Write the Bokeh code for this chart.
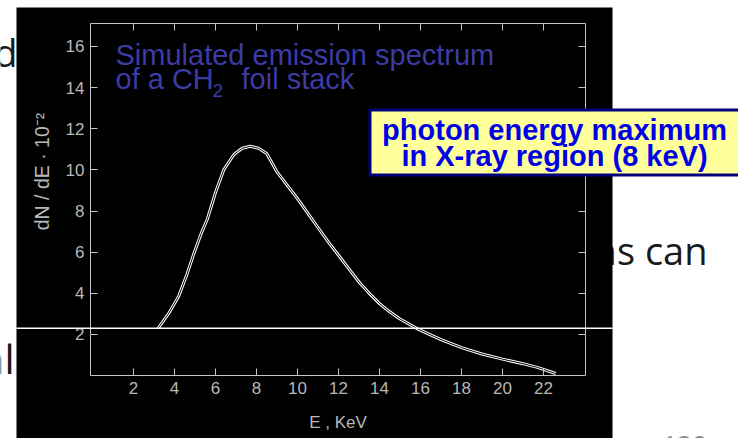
import numpy as np
from bokeh.plotting import figure
from bokeh.models import Range1d, LinearAxis, FixedTicker, Label, BoxAnnotation
from bokeh.embed import file_html
from bokeh.resources import INLINE

# ---- data ----
energy_kev = [3.2, 3.7, 4.2, 4.6, 4.95, 5.3, 5.6, 6.0, 6.4, 6.9, 7.3, 7.7, 8.1, 8.5,
              9.0, 9.5, 10.0, 10.5, 11.0, 11.5, 12.0, 12.5, 13.0, 13.5, 14.0, 14.5,
              15.0, 15.9, 17.0, 18.0, 19.0, 20.0, 21.0, 21.7, 22.6]
dn_de = [2.3, 3.0, 3.85, 4.9, 5.95, 6.9, 7.6, 8.9, 10.0, 10.75, 11.05, 11.15, 11.05, 10.8,
         9.9, 9.25, 8.6, 7.9, 7.2, 6.5, 5.85, 5.2, 4.55, 4.0, 3.5, 3.1,
         2.75, 2.25, 1.75, 1.36, 1.05, 0.8, 0.58, 0.4, 0.1]
x_ticks = [2, 4, 6, 8, 10, 12, 14, 16, 18, 20, 22]
y_ticks = [2, 4, 6, 8, 10, 12, 14, 16]
x_box = (-0.1, 24.05)   # plot box extent in keV
y_box = (0.0, 17.12)    # plot box extent in dN/dE units

x_label = "E , KeV"
y_label = "dN / dE \u00b7 10\u207b\u00b2"
title_1 = "Simulated emission spectrum"
title_2a = "of a CH"
title_2b = "2"
title_2c = "foil stack"
box_1 = "photon energy maximum"
box_2 = "in X-ray region (8 keV)"

# ---- page geometry (pixels) ----
W, H = 738, 438
PX_PER_KEV = 20.5
PX_PER_Y = 20.57
X0_PX = 92.0     # pixel column of E = 0
Y0_PX = 375.1    # pixel row of dN/dE = 0

SANS = "Liberation Sans"
GRAY = "#c4c4c4"
TICK_TXT = "#b8b8b8"

p = figure(width=W, height=H, output_backend="svg", toolbar_location=None,
           x_range=Range1d(-X0_PX / PX_PER_KEV, (W - X0_PX) / PX_PER_KEV),
           y_range=Range1d(-(H - Y0_PX) / PX_PER_Y, Y0_PX / PX_PER_Y),
           x_axis_location=None, y_axis_location=None,
           min_border_left=0, min_border_right=0, min_border_top=0, min_border_bottom=0,
           border_fill_color="white", background_fill_color="white",
           outline_line_color=None)
p.xgrid.visible = False
p.ygrid.visible = False


def scr(**kw):
    d = {}
    for k, v in kw.items():
        d[k] = v
        d[k + "_units"] = "screen"
    return d


# slide text fragments behind the chart picture
for txt, x, y, size, col, align in [("d", 17, 387, "38px", "#1a1a1a", "right"),
                                    ("nl", 14, 80, "40px", "#1a1a1a", "right"),
                                    ("ons can", 707, 189, "38px", "#1a1a1a", "right"),
                                    ("120", 662, -6, "26px", "#8c8c8c", "left")]:
    p.add_layout(Label(x=x, y=y, x_units="screen", y_units="screen", text=txt,
                       text_font="Open Sans", text_font_size=size, text_color=col,
                       text_align=align, text_baseline="alphabetic", level="image"))

# black picture background
p.add_layout(BoxAnnotation(**scr(left=16, right=612, bottom=0, top=431),
                           fill_color="black", fill_alpha=1, line_color=None,
                           level="underlay"))


def make_axis(ticks, loc, bounds, labels):
    ax = LinearAxis(ticker=FixedTicker(ticks=ticks), fixed_location=loc, bounds=bounds,
                    major_tick_in=7, major_tick_out=0,
                    minor_tick_line_color=None, axis_line_color=GRAY,
                    major_tick_line_color=GRAY, major_label_text_color=TICK_TXT,
                    major_label_text_font=SANS, major_label_text_font_size="17px",
                    major_label_standoff=6)
    if not labels:
        ax.major_label_text_font_size = "0px"
        ax.major_label_text_alpha = 0
        ax.major_label_standoff = 0
    return ax


xb = make_axis(x_ticks, y_box[0], x_box, True)
xb.axis_label = x_label
xb.axis_label_text_font = SANS
xb.axis_label_text_font_style = "normal"
xb.axis_label_text_font_size = "17px"
xb.axis_label_text_color = TICK_TXT
xb.axis_label_standoff = 16
p.add_layout(xb, "below")
p.add_layout(make_axis(y_ticks, x_box[0], y_box, True), "left")
p.add_layout(make_axis(x_ticks, y_box[1], x_box, False), "above")
p.add_layout(make_axis(y_ticks, x_box[1], y_box, False), "right")

# curve (outlined look)
p.line(energy_kev, dn_de, line_color="white", line_width=3)
p.line(energy_kev, dn_de, line_color="black", line_width=1)

# y axis label
p.add_layout(Label(x=41, y=267, x_units="screen", y_units="screen", text=y_label,
                   angle=np.pi / 2, text_align="center", text_baseline="middle",
                   text_font=SANS, text_font_size="19.5px", text_color=TICK_TXT))

# blue title
BLUE = "#3c3ca5"
for txt, x, y, size in [(title_1, 115, 384, "29px"), (title_2a, 115, 360, "29px"),
                        (title_2b, 212, 348, "19px"), (title_2c, 241, 360, "29px")]:
    p.add_layout(Label(x=x, y=y, x_units="screen", y_units="screen", text=txt,
                       text_font=SANS, text_font_size=size, text_color=BLUE,
                       text_baseline="alphabetic"))

# yellow callout
p.add_layout(BoxAnnotation(**scr(left=369.5, right=742, bottom=263.5, top=328.5),
                           fill_color="#ffff9c", fill_alpha=1, line_color="#00007a",
                           line_alpha=1, line_width=3, level="annotation"))
for txt, y in [(box_1, 309), (box_2, 283)]:
    p.add_layout(Label(x=554, y=y, x_units="screen", y_units="screen", text=txt,
                       text_font=SANS, text_font_size="29px", text_font_style="bold",
                       text_color="#0000e6", text_align="center",
                       text_baseline="alphabetic"))

# white horizontal streak across the picture
p.add_layout(BoxAnnotation(**scr(left=16, right=612, bottom=109.5, top=111),
                           fill_color="white", fill_alpha=1, line_color=None,
                           level="overlay"))

open("out.html", "w").write(file_html(p, INLINE))
